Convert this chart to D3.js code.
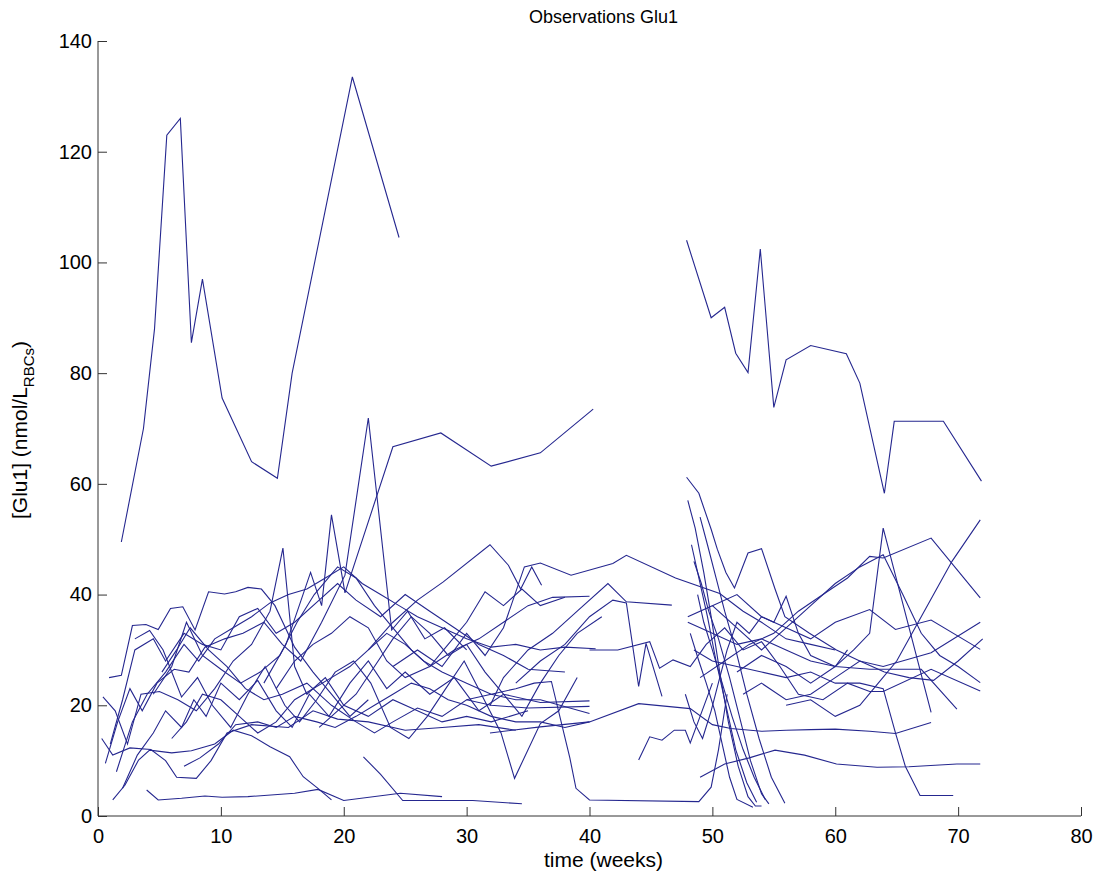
<!DOCTYPE html>
<html>
<head>
<meta charset="utf-8">
<script src="https://cdn.jsdelivr.net/npm/d3@7"></script>
<style>
  html, body { margin: 0; padding: 0; background: #fff; }
  svg { display: block; }
  text { font-family: "Liberation Sans", Arial, Helvetica, sans-serif; fill: #000; }
</style>
</head>
<body>
<svg id="chart" width="1095" height="877"></svg>
<script>
// ---------------- Data (weeks, [Glu1]) ----------------
const titleText = "Observations Glu1";
const xLabelText = "time (weeks)";
const xTicks = [0, 10, 20, 30, 40, 50, 60, 70, 80];
const yTicks = [0, 20, 40, 60, 80, 100, 120, 140];

// first cohort
const s01 = [[1.9,49.5],[3.7,70],[4.6,88],[5.6,123],[6.7,126],[7.6,85.5],[8.5,97],[10.1,75.5],[12.5,64],[14.6,61],[15.8,80],[20.7,133.5],[24.5,104.5]];
const s02 = [[13.5,24],[15.3,31],[17.3,44],[18.2,38],[19.0,54.4],[20.1,40.3],[24.0,66.7],[27.9,69.2],[32.0,63.2],[36.0,65.6],[40.3,73.5]];
const s03 = [[0.6,9.5],[1.6,17],[2.6,23],[3.6,19],[4.8,24],[6.2,26.5],[7.4,26],[8.7,30.5],[10.3,32],[11.8,33],[13.5,35],[15,31],[16.5,28],[18.2,35],[20.1,43.5],[22.0,71.9],[23.9,33.6],[25.2,37],[26.6,32],[28.2,34],[30,30]];
const s04 = [[0.9,25.0],[1.9,25.4],[2.8,34.4],[3.9,34.6],[4.9,33.7],[5.9,37.5],[6.9,37.8],[7.9,33.6],[9.0,40.5],[10.3,40.1],[11.2,40.5],[12.2,41.3],[13.3,41.0],[14.4,38.0],[16.0,30.5],[17.5,26],[19,22],[20.5,18],[22,21]];
const s05 = [[0.4,21.5],[1.4,19],[2.4,13],[3.5,22],[5,22.5],[6.5,21],[8,19],[9.5,23],[11,28],[12.5,31],[14,37],[15.05,48.4],[16.0,27],[17,22],[18.5,25],[20,20],[22,18],[24,21],[26,19],[28,17],[30,18],[32,17],[35,19]];
const s06 = [[3.96,4.7],[4.9,2.9],[6.8,3.2],[8.7,3.6],[10.1,3.4],[12.2,3.5],[16,4.1],[17.9,4.8],[20,2.8],[24.6,4.1],[28,3.5]];
const s07 = [[21.6,10.7],[23,7.5],[24.8,2.8],[30.5,2.8],[34.5,2.2]];
const s08 = [[1.2,2.9],[2.2,5.6],[3.3,10.1],[4.2,11.9],[6.0,11.4],[7.6,11.8],[9.5,13],[11,15.5],[12.5,14.5],[14,12.5],[15.6,10.7],[16.7,7.1],[17.9,5.0],[19.0,2.9]];
const s09 = [[0.3,14],[1.2,11],[2.6,12.3],[4.3,12],[5.5,10],[6.4,7],[8,6.8],[9.2,10],[10.5,15],[12.5,16.5],[15.5,16],[17.5,19],[19.5,17.5],[22,17],[25,15.5],[28,16],[31,16.5],[34,15.5]];
const s10 = [[1.0,13],[2.0,21],[3.0,30],[4.5,32],[5.5,28],[7,33],[8.5,31],[10,30],[11.5,36],[13,37.5],[14.5,33],[16,35],[18,39],[19.5,42],[21,39],[23,36],[25,40],[27,37],[29,34],[31,31],[33,29],[35,26.5],[38,26]];
const s11 = [[2.0,5],[3.2,11],[4.5,15],[5.5,19],[6.8,16],[7.8,21],[8.8,18],[10,24],[11.5,21],[13,24.5],[14.5,19],[15.8,16],[17.2,22],[18.8,18],[20.5,24],[22,28],[23.5,23],[25,26],[27,22],[29,25],[31,19],[33,22],[36,20.5],[40,20.8]];
const s12 = [[4.5,22],[6,27],[7.2,35],[8.5,29],[10,26.5],[11.6,24],[13.2,26],[14.8,29],[16.2,35],[17.6,40],[19.5,45],[21,43],[22.5,38],[24,34],[25.5,30],[27,27],[28.5,31],[30,35],[31.5,40.5],[33,38],[34.5,41],[36,38],[38,39.5]];
const s13 = [[5.2,26],[6.4,30],[7.5,34],[9,30],[10.5,27],[12,23],[13.5,21],[15,22],[17,24],[19,20],[21,17],[22.5,15],[24,17],[26,19.5],[28,18],[30,21],[32,20],[35,19.5],[40,19.8]];
const s14 = [[3,32],[4.2,33.5],[5.3,30],[6.8,21.5],[8.1,25],[9.3,20],[10.8,16],[12.2,22],[13.6,27],[15.2,20],[16.4,17],[17.8,21],[19.3,26],[20.8,28],[22.2,24],[23.8,16],[25.3,14],[26.8,18],[28.3,23],[29.8,28],[31.2,22],[32.8,15],[33.9,6.8],[36,16.7],[37.5,19],[39,25]];
const s15 = [[6,14],[7.2,17],[8.5,22],[10,21],[11.5,18],[13,15],[14.5,17],[16,21],[17.5,23],[19,25],[20.5,27],[22,30],[23.5,33],[25,31],[26.5,28],[28,26],[30,24],[32,22],[34,21],[36,21],[40,18.5]];
const s16 = [[7,9],[8.3,10.5],[9.8,13],[11.2,16.5],[13,17],[14.5,16],[16,18],[17.8,17],[19.3,16],[21,18],[22.5,20],[24,22],[25.5,24],[27,23],[28.5,21],[30,20],[32,18],[34,17],[36,17],[38,16],[40,17]];
const s17 = [[1.5,8],[2.8,17],[4,22],[5.5,26],[7,31],[8.2,28],[9.5,32],[11,34],[12.5,36],[14,38.5],[15.5,40],[17,41],[18.5,43],[20,45],[21.5,42],[23,40],[24.5,38],[26,36],[28,34],[30,32],[32,30.5],[34,31],[36,30],[38,30.5],[40.5,30.2]];
const s18 = [[14.5,23],[16,28],[17.5,31],[19,33],[20.5,36],[22,34],[23.5,28],[25,25],[27,27],[29,30],[31,32],[33,35],[35,38],[37,39.5],[40,39.7]];
const s19 = [[18,16],[19.5,19],[21,22],[22.5,27],[24,32],[25.5,36],[27,33],[28.5,29],[30,31],[31.5,26],[33,22],[34.5,18],[36,24],[37.5,29],[39,33],[41,36]];
const s20 = [[22,30],[24,35],[26,39],[28.1,42.3],[31.9,49],[33.4,45.3],[34.4,41],[35.3,45],[36.1,41.7]];
const s21 = [[24,27],[26,30],[28,27],[30,33],[31.5,29],[33,34],[34.7,45],[36,45.7],[38.5,43.5],[41.9,45.6],[43,47.1],[47,43],[50.6,40.2],[52.5,37],[54,35],[56,32],[58,31],[60,30]];
const s22 = [[30,21],[32,22],[34,23],[35.5,24],[36.9,24.3],[38.4,10.5],[38.9,5],[40,2.9],[48.9,2.6],[49.9,5.2],[50.5,12],[51.2,22]];
const s23 = [[31.9,19.9],[33,25],[35,30],[37,33],[39,37],[41.5,42],[43,38.7],[46.7,38.1]];
const s24 = [[34,24],[36,28],[38,31],[40,36],[41.9,39],[43,38.5],[44,23.4],[44.6,31.2],[45.9,21.6]];
const s25 = [[44,10.1],[44.9,14.3],[45.9,13.7],[46.9,15.5],[47.8,15.5],[48.2,13.2],[49,18],[50,24]];
const s26 = [[31.9,15],[36,16.1],[40,17],[44,20.3],[48.2,19.4],[50,16.5],[51.5,15.8],[54,15.3],[56,15.5],[58,15.6],[60,15.7],[62.8,15.3],[64.9,14.9],[67.8,16.9]];
const s27 = [[40,30],[42.3,30],[44.9,31.5],[45.7,26.7],[46.8,28.2],[48.2,27],[49.5,31],[51,34],[52.5,30],[54,31.5],[55.5,27],[57,22],[59,21],[61,24],[62.8,22.5],[63.9,22.5],[67.8,26.5],[71.8,22.6]];

// second cohort
const t01 = [[47.9,104],[49.9,90],[51.0,91.9],[51.9,83.6],[52.9,80.1],[53.9,102.4],[55.0,73.8],[56.0,82.4],[58.0,85.0],[60.9,83.5],[62.0,78.2],[64.0,58.3],[64.8,71.3],[68.8,71.3],[71.9,60.5]];
const t02 = [[47.9,61.2],[48.9,58.3],[49.9,51.8],[50.4,48.2],[51.1,44.0],[51.8,41.2],[52.9,47.5],[54.0,48.3],[55.1,41],[55.9,36],[57.9,33],[60.1,30],[62,28],[64,26],[66,25],[68,24.5],[70,28],[72,32]];
const t03 = [[48.0,57],[48.6,52],[49.3,44],[49.9,36],[50.6,26],[51.3,17],[52.1,9],[52.9,3.5],[53.5,1.8],[54,1.8]];
const t04 = [[48.3,49],[48.9,43],[49.6,36],[50.3,28],[51.1,20],[51.9,12],[52.8,6],[53.6,2.5]];
const t05 = [[48.5,46],[49.1,42],[49.7,37],[50.5,32],[51.4,25],[52.2,18],[53.1,10],[54.0,4],[54.6,2.2]];
const t06 = [[48.8,40],[49.3,35],[50.0,30],[50.8,24],[51.6,18],[52.5,12],[53.4,7],[54.3,3]];
const t07 = [[49.0,54],[49.6,49],[50.3,43],[51.0,37],[51.9,30],[52.8,22],[53.8,14],[54.8,7],[55.9,2.3]];
const t08 = [[48.2,33],[48.9,28],[49.5,24],[50.2,19],[50.8,13],[51.4,7],[52.0,3],[53.3,1.6]];
const t09 = [[47.8,22],[48.5,17],[49.2,14],[49.9,19],[50.6,25],[51.2,30],[52,35],[53,33],[54,36],[55,35],[56,39.7],[57,33],[58,29],[60,27],[61,30]];
const t10 = [[49,7],[51.0,9.4],[53,10.5],[55.1,11.9],[57.5,11],[60.1,9.4],[63.4,8.8],[66,8.9],[69.9,9.4],[71.8,9.4]];
const t11 = [[48.5,30],[50,28],[52,27],[54,26],[56,25],[58,26],[60,24],[62,24],[63.9,23],[64.9,15],[65.7,9],[66.9,3.7],[69.6,3.7]];
const t12 = [[48,36],[50,38],[52,34],[54,30],[56,34],[58,38],[60,42],[62,45],[63.9,47.2],[65.5,40],[67,33],[68.5,29],[70,27],[71.8,24.1]];
const t13 = [[49,25],[51,28],[53,31],[55,33],[57,37],[59,40],[61,43],[62.8,46.9],[63.9,46.6],[67.8,50.2],[71.8,39.4]];
const t14 = [[52,26],[54,29],[56,27],[58,24],[60,27],[61.5,30],[62.8,33],[63.9,52],[67.8,18.7]];
const t15 = [[56,20],[58,21],[60,18],[62,20],[63.5,24],[65,28],[66.5,34],[68,40],[69.5,46],[71.8,53.5]];
const t16 = [[50,38],[52,40],[54,36],[56,34],[58,32],[60,35],[62.8,37.3],[64.9,33.7],[67.8,35.4],[71.8,30.1]];
const t17 = [[48,35],[50,33],[52,31],[54,32],[56,30],[58,28],[60,27],[62.8,26.5],[67,26.5],[69.9,19.3]];
const t18 = [[52.5,22],[54,24],[56,21],[58,22],[60,25],[62,28],[63.9,27],[67.8,29.5],[71.8,35]];

const subjects = [s01,s02,s03,s04,s05,s06,s07,s08,s09,s10,s11,s12,s13,s14,s15,s16,s17,s18,s19,s20,s21,s22,s23,s24,s25,s26,s27,
                  t01,t02,t03,t04,t05,t06,t07,t08,t09,t10,t11,t12,t13,t14,t15,t16,t17,t18];

// ---------------- Drawing ----------------
const svg = d3.select("#chart");
const x = d3.scaleLinear().domain([0, 80]).range([98, 1081]);
const y = d3.scaleLinear().domain([0, 140]).range([816, 41]);

const axisColor = "#333";

// lines
const line = d3.line().x(d => x(d[0])).y(d => y(d[1]));
svg.append("g").selectAll("path").data(subjects).join("path")
  .attr("d", line)
  .attr("fill", "none")
  .attr("stroke", "#25278f")
  .attr("stroke-width", 1.1)
  .attr("stroke-linejoin", "miter");

// axes (MATLAB style: ticks inside)
const xAxis = d3.axisBottom(x).tickValues(xTicks).tickSize(-9).tickPadding(13).tickFormat(d3.format("d"));
const gx = svg.append("g").attr("transform", `translate(0,${y(0)})`).call(xAxis);
gx.select(".domain").attr("stroke", axisColor).attr("d", `M${x(0)},0H${x(80)}`);
gx.selectAll(".tick line").attr("stroke", axisColor);
gx.selectAll(".tick text").attr("font-size", 20).attr("fill", "#000")
  .attr("font-family", "'Liberation Sans', Arial, sans-serif");

const yAxis = d3.axisLeft(y).tickValues(yTicks).tickSize(-9).tickPadding(6).tickFormat(d3.format("d"));
const gy = svg.append("g").attr("transform", `translate(${x(0)},0)`).call(yAxis);
gy.select(".domain").attr("stroke", axisColor).attr("d", `M0,${y(0)}V${y(140)}`);
gy.selectAll(".tick line").attr("stroke", axisColor);
gy.selectAll(".tick text").attr("font-size", 20).attr("fill", "#000")
  .attr("font-family", "'Liberation Sans', Arial, sans-serif");

// title
svg.append("text").attr("x", (x(0) + x(80)) / 2 + 14).attr("y", 23)
  .attr("text-anchor", "middle").attr("font-size", 18).text(titleText);

// x label
svg.append("text").attr("x", (x(0) + x(80)) / 2 + 14).attr("y", 867)
  .attr("text-anchor", "middle").attr("font-size", 21).text(xLabelText);

// y label with subscript
const yl = svg.append("text")
  .attr("transform", `translate(27,${430}) rotate(-90)`)
  .attr("text-anchor", "middle").attr("font-size", 21);
yl.append("tspan").text("[Glu1] (nmol/L");
yl.append("tspan").attr("font-size", 15).attr("dy", 7).text("RBCs");
yl.append("tspan").attr("dy", -7).text(")");
</script>
</body>
</html>
